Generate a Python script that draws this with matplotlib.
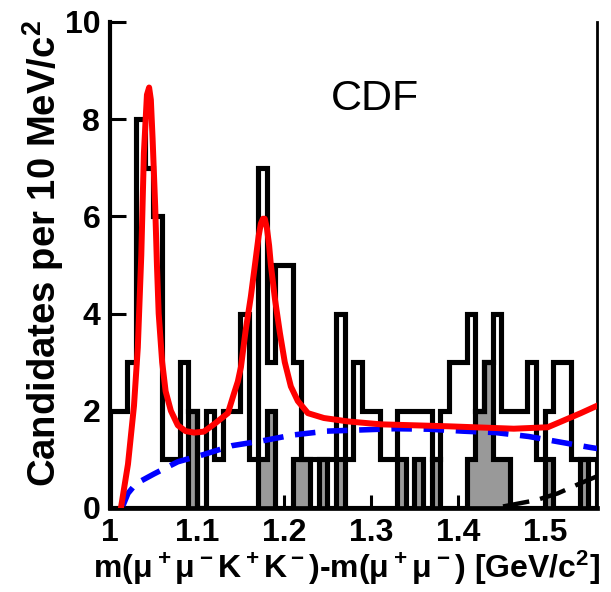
import numpy as np
import matplotlib
matplotlib.use('Agg')
import matplotlib.pyplot as plt

plt.rcParams['font.family'] = ['Liberation Sans', 'DejaVu Sans']
plt.rcParams['mathtext.fontset'] = 'custom'
plt.rcParams['mathtext.rm'] = 'Liberation Sans:bold'
plt.rcParams['mathtext.it'] = 'Liberation Sans:bold'
plt.rcParams['mathtext.bf'] = 'Liberation Sans:bold'

# binning: 10 MeV bins from 1.00 to 1.56 GeV
bin_lo, bin_hi, n_bins = 1.00, 1.56, 56

# data candidates per bin (black outline)
data_counts = [2, 2, 3, 8, 7, 6, 1, 1, 3, 2,
               0, 2, 1, 2, 2, 4, 1, 7, 3, 5,
               5, 3, 1, 1, 1, 1, 4, 1, 3, 2,
               2, 1, 1, 2, 2, 2, 2, 1, 2, 3,
               3, 4, 2, 3, 4, 2, 2, 2, 3, 1,
               2, 3, 3, 1, 1, 1]

# gray filled histogram
gray_counts = [0, 0, 0, 0, 0, 0, 0, 0, 0, 2,
               0, 0, 0, 0, 0, 0, 0, 1, 2, 0,
               0, 1, 1, 0, 1, 0, 1, 0, 0, 0,
               0, 0, 0, 1, 0, 1, 0, 1, 0, 0,
               0, 1, 2, 3, 1, 1, 0, 0, 0, 0,
               1, 0, 0, 0, 1, 0]

# full fit (red)
fit_x = [1.0126, 1.0207, 1.0276, 1.032, 1.036, 1.039, 1.0425, 1.045, 1.047,
         1.049, 1.052, 1.054, 1.056, 1.060, 1.064, 1.070, 1.078, 1.087,
         1.097, 1.108, 1.1195, 1.1356, 1.1425, 1.147, 1.1506, 1.156, 1.162,
         1.1667, 1.171, 1.1735, 1.1759, 1.178, 1.1805, 1.183, 1.185, 1.1897,
         1.1954, 1.201, 1.208, 1.216, 1.2276, 1.246, 1.2736, 1.3115, 1.3885,
         1.4644, 1.5034, 1.5218, 1.5414, 1.5598]
fit_y = [0.0, 0.9, 2.1, 3.3, 5.2, 7.3, 8.5, 8.65, 8.4,
         7.6, 6.2, 5.0, 4.0, 3.0, 2.4, 2.0, 1.7, 1.58,
         1.55, 1.57, 1.72, 1.95, 2.35, 2.6, 2.9, 3.65, 4.35,
         5.0, 5.6, 5.85, 5.95, 5.95, 5.75, 5.4, 5.0, 4.3,
         3.6, 3.0, 2.5, 2.2, 1.95, 1.85, 1.78, 1.72, 1.68,
         1.63, 1.66, 1.8, 1.95, 2.1]

# background component (blue dashed)
bkg_x = [1.015, 1.0207, 1.03, 1.0506, 1.078, 1.108, 1.140, 1.175, 1.21,
         1.249, 1.3276, 1.3667, 1.4057, 1.4437, 1.4816, 1.516, 1.5506, 1.561]
bkg_y = [0.05, 0.3, 0.5, 0.7, 0.95, 1.1, 1.28, 1.38, 1.5,
         1.58, 1.63, 1.62, 1.58, 1.55, 1.47, 1.36, 1.25, 1.22]

# black dashed component near the upper edge
thr_x = [1.452, 1.49, 1.515, 1.54, 1.56]
thr_y = [0.03, 0.16, 0.3, 0.5, 0.65]

edges = np.linspace(bin_lo, bin_hi, n_bins + 1)

fig = plt.figure(figsize=(6.11, 5.92), dpi=100)
ax = fig.add_axes([0.180, 0.142, 0.797, 0.821])

ax.stairs(gray_counts, edges, fill=True, color='#999999', zorder=1)
ax.stairs(gray_counts, edges, color='black', lw=3.7, zorder=2)
ax.stairs(data_counts, edges, color='black', lw=3.7, zorder=3)
ax.plot(bkg_x, bkg_y, color='#0000ff', lw=4, ls=(0, (3.7, 2.1)), zorder=4)
ax.plot(thr_x, thr_y, color='black', lw=3.2, ls=(0, (6, 2.5)), zorder=4)
ax.plot(fit_x, fit_y, color='#ff0000', lw=4.3, zorder=5,
        solid_joinstyle='round')

ax.set_xlim(bin_lo, bin_hi)
ax.set_ylim(0, 10)
ax.set_xticks([1.0, 1.1, 1.2, 1.3, 1.4, 1.5])
ax.set_xticklabels(['1', '1.1', '1.2', '1.3', '1.4', '1.5'])
ax.set_yticks([0, 2, 4, 6, 8, 10])
ax.tick_params(axis='both', direction='in', width=2.2, labelsize=23, pad=7)
ax.tick_params(axis='y', length=11.5)
ax.tick_params(axis='x', length=9.5)
for lab in ax.get_xticklabels() + ax.get_yticklabels():
    lab.set_fontweight('bold')

ax.spines['top'].set_visible(False)
ax.spines['left'].set_linewidth(3)
ax.spines['bottom'].set_linewidth(3.4)
ax.spines['right'].set_linewidth(2)

ax.text(0.544, 0.842, 'CDF', transform=ax.transAxes, fontsize=31,
        ha='center', va='center')

fig.text(43 / 611, 1 - 20 / 592, r'Candidates per 10 MeV/c$^2$', rotation=90,
         fontsize=27.5, fontweight='bold', ha='center', va='top')
fig.text(600 / 611, 1 - 568 / 592,
         r'm($\mu^+\mu^-$K$^+$K$^-$)-m($\mu^+\mu^-$) [GeV/c$^2$]',
         fontsize=23, fontweight='bold', ha='right', va='center')

fig.savefig('out.png', dpi=100)
